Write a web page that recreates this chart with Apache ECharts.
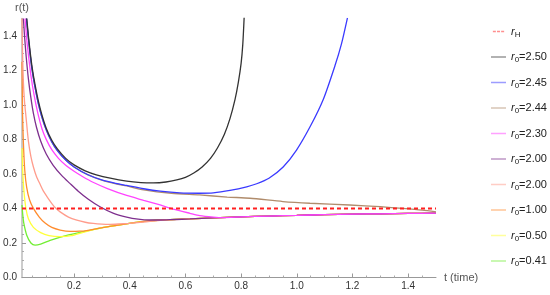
<!DOCTYPE html>
<html>
<head>
<meta charset="utf-8">
<script src="https://cdn.jsdelivr.net/npm/echarts@6/dist/echarts.min.js"></script>
<style>
  html, body { margin: 0; padding: 0; background: #fff; }
  #chart { width: 550px; height: 295px; }
</style>
</head>
<body>
<div id="chart"></div>
<script>
// tick values
const xMajor = [0.2, 0.4, 0.6, 0.8, 1.0, 1.2, 1.4];
const xMinor = [0.05, 0.1, 0.15, 0.25, 0.3, 0.35, 0.45, 0.5, 0.55, 0.65, 0.7, 0.75, 0.85, 0.9, 0.95, 1.05, 1.1, 1.15, 1.25, 1.3, 1.35, 1.45];
const yMajor = [0, 0.2, 0.4, 0.6, 0.8, 1.0, 1.2, 1.4];
const yMinor = [0.05, 0.1, 0.15, 0.25, 0.3, 0.35, 0.45, 0.5, 0.55, 0.65, 0.7, 0.75, 0.85, 0.9, 0.95, 1.05, 1.1, 1.15, 1.25, 1.3, 1.35, 1.45];

// horizon
const tH = [0.013, 1.5];
const rH = [0.4, 0.4];

// r0 = 2.50
const t250 = [0.030, 0.036, 0.042, 0.05, 0.06, 0.072, 0.084, 0.1, 0.12, 0.14, 0.17, 0.2, 0.24, 0.28, 0.33, 0.389, 0.44, 0.485, 0.53, 0.569, 0.6, 0.63, 0.66, 0.69, 0.715, 0.74, 0.76, 0.778, 0.79, 0.8, 0.806, 0.811];
const r250 = [1.5, 1.40, 1.31, 1.21, 1.115, 1.02, 0.945, 0.865, 0.795, 0.745, 0.69, 0.652, 0.618, 0.595, 0.575, 0.558, 0.55, 0.548, 0.553, 0.565, 0.58, 0.605, 0.64, 0.69, 0.75, 0.83, 0.92, 1.03, 1.13, 1.24, 1.35, 1.51];
// r0 = 2.45
const t245 = [0.029, 0.035, 0.041, 0.049, 0.059, 0.071, 0.083, 0.1, 0.12, 0.14, 0.17, 0.2, 0.25, 0.305, 0.35, 0.389, 0.45, 0.509, 0.58, 0.65, 0.7, 0.76, 0.82, 0.856, 0.9, 0.951, 0.999, 1.05, 1.095, 1.137, 1.16, 1.182];
const r245 = [1.5, 1.40, 1.31, 1.205, 1.108, 1.012, 0.937, 0.855, 0.785, 0.735, 0.68, 0.64, 0.595, 0.562, 0.545, 0.533, 0.514, 0.50, 0.49, 0.488, 0.49, 0.504, 0.525, 0.543, 0.575, 0.64, 0.738, 0.88, 1.031, 1.226, 1.35, 1.504];
// r0 = 2.44
const t244 = [0.029, 0.035, 0.041, 0.049, 0.059, 0.071, 0.083, 0.1, 0.12, 0.14, 0.17, 0.2, 0.25, 0.305, 0.35, 0.389, 0.45, 0.55, 0.65, 0.75, 0.832, 0.95, 1.047, 1.19, 1.3, 1.38, 1.45, 1.5];
const r244 = [1.5, 1.40, 1.31, 1.205, 1.108, 1.012, 0.937, 0.855, 0.785, 0.735, 0.68, 0.64, 0.594, 0.561, 0.543, 0.53, 0.508, 0.488, 0.478, 0.466, 0.459, 0.44, 0.43, 0.42, 0.41, 0.4, 0.39, 0.38];
// r0 = 2.30
const t230 = [0.024, 0.03, 0.036, 0.045, 0.056, 0.07, 0.085, 0.1, 0.12, 0.144, 0.17, 0.2, 0.23, 0.27, 0.32, 0.389, 0.45, 0.509, 0.56, 0.616, 0.652, 0.7, 0.735, 0.8, 0.9, 1.0, 1.1, 1.2, 1.3, 1.4, 1.5];
const r230 = [1.5, 1.38, 1.29, 1.17, 1.06, 0.95, 0.86, 0.8, 0.74, 0.69, 0.65, 0.615, 0.585, 0.55, 0.515, 0.475, 0.447, 0.42, 0.395, 0.372, 0.358, 0.35, 0.347, 0.351, 0.356, 0.36, 0.364, 0.367, 0.369, 0.371, 0.373];
// r0 = 2.00 (purple)
const t200a = [0.018, 0.022, 0.028, 0.036, 0.045, 0.054, 0.065, 0.08, 0.1, 0.125, 0.156, 0.185, 0.215, 0.25, 0.293, 0.34, 0.389, 0.43, 0.47, 0.509, 0.56, 0.616, 0.7, 0.8, 0.9, 1.0, 1.1, 1.2, 1.3, 1.4, 1.5];
const r200a = [1.5, 1.4, 1.28, 1.15, 1.04, 0.95, 0.87, 0.79, 0.715, 0.65, 0.59, 0.545, 0.5, 0.455, 0.41, 0.373, 0.35, 0.338, 0.333, 0.333, 0.336, 0.339, 0.345, 0.351, 0.356, 0.36, 0.364, 0.367, 0.369, 0.371, 0.373];
// r0 = 2.00 (pink)
const t200b = [0.013, 0.015, 0.018, 0.022, 0.028, 0.036, 0.045, 0.054, 0.065, 0.078, 0.09, 0.102, 0.115, 0.132, 0.15, 0.18, 0.21, 0.24, 0.269, 0.3, 0.329, 0.36, 0.4, 0.437, 0.48, 0.52, 0.616, 0.7, 0.8, 0.9, 1.0, 1.1, 1.2, 1.3, 1.4, 1.5];
const r200b = [1.5, 1.3, 1.13, 1.02, 0.92, 0.79, 0.7, 0.64, 0.585, 0.54, 0.5, 0.47, 0.44, 0.405, 0.38, 0.35, 0.332, 0.32, 0.313, 0.309, 0.308, 0.31, 0.314, 0.319, 0.326, 0.333, 0.339, 0.345, 0.351, 0.356, 0.36, 0.364, 0.367, 0.369, 0.371, 0.373];
// r0 = 1.00
const t100 = [0.013, 0.015, 0.018, 0.023, 0.03, 0.04, 0.054, 0.075, 0.096, 0.12, 0.15, 0.186, 0.22, 0.245, 0.293, 0.353, 0.41, 0.461, 0.52, 0.616, 0.7, 0.8, 0.9, 1.0, 1.1, 1.2, 1.3, 1.4, 1.5];
const r100 = [1.25, 0.95, 0.78, 0.62, 0.52, 0.45, 0.40, 0.35, 0.315, 0.29, 0.275, 0.267, 0.268, 0.272, 0.286, 0.302, 0.316, 0.327, 0.333, 0.339, 0.345, 0.351, 0.356, 0.36, 0.364, 0.367, 0.369, 0.371, 0.373];
// r0 = 0.50
const t050 = [0.013, 0.016, 0.02, 0.027, 0.036, 0.054, 0.08, 0.11, 0.15, 0.19, 0.233, 0.293, 0.353, 0.41, 0.461, 0.52, 0.616, 0.7, 0.8, 0.9, 1.0, 1.1, 1.2, 1.3, 1.4, 1.5];
const r050 = [0.75, 0.6, 0.5, 0.40, 0.34, 0.29, 0.26, 0.243, 0.237, 0.242, 0.262, 0.286, 0.302, 0.316, 0.327, 0.333, 0.339, 0.345, 0.351, 0.356, 0.36, 0.364, 0.367, 0.369, 0.371, 0.373];
// r0 = 0.41
const t041 = [0.013, 0.016, 0.02, 0.03, 0.045, 0.06, 0.08, 0.114, 0.174, 0.233, 0.293, 0.353, 0.41, 0.461, 0.52, 0.616, 0.7, 0.8, 0.9, 1.0, 1.1, 1.2, 1.3, 1.4, 1.5];
const r041 = [0.42, 0.36, 0.31, 0.245, 0.2, 0.187, 0.193, 0.215, 0.244, 0.265, 0.286, 0.302, 0.316, 0.327, 0.333, 0.339, 0.345, 0.351, 0.356, 0.36, 0.364, 0.367, 0.369, 0.371, 0.373];

const names = ['rH', 'r250', 'r245', 'r244', 'r230', 'r200a', 'r200b', 'r100', 'r050', 'r041'];
const labels = ['', '2.50', '2.45', '2.44', '2.30', '2.00', '2.00', '1.00', '0.50', '0.41'];
const colors = ['#ff2020', '#333333', '#3a3aff', '#b08c6c', '#ff44ff', '#7e2f8e', '#ff9c8c', '#ff8c2e', '#ffff3a', '#72ee34'];
const tData = [tH, t250, t245, t244, t230, t200a, t200b, t100, t050, t041];
const rData = [rH, r250, r245, r244, r230, r200a, r200b, r100, r050, r041];

let myChart = echarts.init(document.getElementById('chart'));

const pair = (ts, rs) => ts.map((t, i) => [t, rs[i]]);

let series = [];
// curves first, horizon last on top
for (let i = names.length - 1; i >= 1; i--) {
    series.push({
        name: names[i],
        type: 'line',
        data: pair(tData[i], rData[i]),
        showSymbol: false,
        symbol: 'none',
        smooth: 0.25,
        lineStyle: { color: colors[i], width: 1.3 },
        itemStyle: { color: colors[i] },
        z: 2
    });
}
series.push({
    name: 'rH',
    type: 'line',
    data: pair(tH, rH),
    showSymbol: false,
    symbol: 'none',
    lineStyle: { color: colors[0], width: 2, type: [4, 3] },
    itemStyle: { color: colors[0] },
    z: 3
});

// legend entries: dashed bar for the horizon, plain bars for the rest
const dashIcon = 'path://M0,0h4v2h-4zM5.5,0h4v2h-4zM11,0h4v2h-4z';
let legendData = names.map((n, i) => ({ name: n, icon: i === 0 ? dashIcon : 'rect' }));

let option = {
    animation: false,
    backgroundColor: '#fff',
    textStyle: { fontFamily: 'Liberation Sans, Arial, sans-serif' },
    grid: { left: 22, right: 114, top: 18.5, bottom: 17.5, containLabel: false },
    legend: {
        orient: 'vertical',
        left: 486,
        top: 21,
        itemWidth: 15,
        itemHeight: 1.5,
        itemGap: 13,
        data: legendData,
        itemStyle: { opacity: 0.5 },
        textStyle: {
            color: '#222',
            fontSize: 11,
            rich: {
                r: { fontSize: 11, fontStyle: 'italic', color: '#222' },
                s: { fontSize: 8, color: '#222', padding: [6, 0, 0, 0] },
                v: { fontSize: 11, color: '#222' }
            }
        },
        formatter: function (name) {
            let i = names.indexOf(name);
            if (i === 0) return '{r|r}{s|H}';
            return '{r|r}{s|0}{v|=' + labels[i] + '}';
        }
    },
    xAxis: [
        {
            type: 'value',
            min: 0.013,
            max: 1.5,
            name: 't (time)',
            nameLocation: 'end',
            nameGap: 8,
            nameTextStyle: { color: '#555', fontSize: 11 },
            axisLine: { show: true, onZero: false, lineStyle: { color: '#999', width: 1 } },
            axisTick: { show: true, inside: true, length: 4, customValues: xMajor, lineStyle: { color: '#999' } },
            axisLabel: { show: true, customValues: xMajor, color: '#333', fontSize: 10, margin: 4,
                formatter: v => v.toFixed(1) },
            splitLine: { show: false }
        },
        {
            type: 'value',
            min: 0.013,
            max: 1.5,
            position: 'bottom',
            axisLine: { show: false },
            axisTick: { show: true, inside: true, length: 2, customValues: xMinor, lineStyle: { color: '#aaa' } },
            axisLabel: { show: false },
            splitLine: { show: false }
        }
    ],
    yAxis: [
        {
            type: 'value',
            min: 0,
            max: 1.5,
            name: 'r(t)',
            nameLocation: 'end',
            nameGap: 5,
            nameTextStyle: { color: '#555', fontSize: 11 },
            axisLine: { show: true, onZero: false, lineStyle: { color: '#bbb', width: 1.5 } },
            axisTick: { show: true, inside: true, length: 4, customValues: yMajor, lineStyle: { color: '#999' } },
            axisLabel: { show: true, customValues: yMajor, color: '#333', fontSize: 10, margin: 5,
                formatter: v => v.toFixed(1) },
            splitLine: { show: false }
        },
        {
            type: 'value',
            min: 0,
            max: 1.5,
            position: 'left',
            axisLine: { show: false },
            axisTick: { show: true, inside: true, length: 2, customValues: yMinor, lineStyle: { color: '#aaa' } },
            axisLabel: { show: false },
            splitLine: { show: false }
        }
    ],
    series: series
};

if (option && typeof option === "object") {
    myChart.setOption(option, true);
}
</script>
</body>
</html>
